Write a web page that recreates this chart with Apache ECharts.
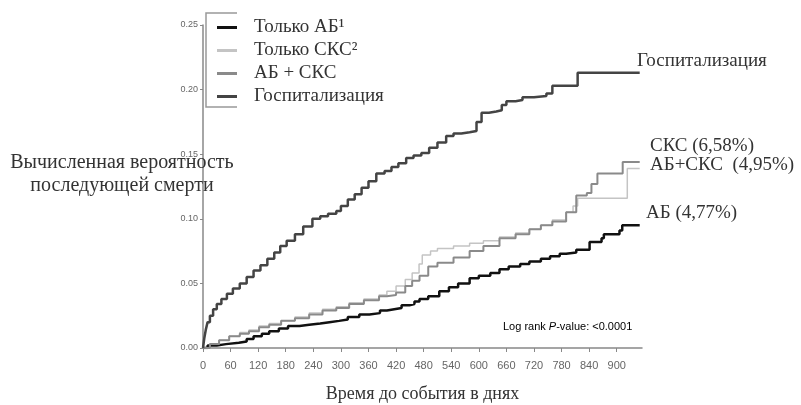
<!DOCTYPE html>
<html>
<head>
<meta charset="utf-8">
<script src="https://cdn.jsdelivr.net/npm/echarts@6/dist/echarts.min.js"></script>
<style>
  html, body { margin: 0; padding: 0; background: #fff; }
  #chart { width: 801px; height: 405px; }
</style>
</head>
<body>
<div id="chart"></div>
<script>
// названия серий
var seriesNames = ['Только АБ¹', 'Только СКС²', 'АБ + СКС', 'Госпитализация']
// подписи справа
var endLabels = ['Госпитализация', 'СКС (6,58%)', 'АБ+СКС  (4,95%)', 'АБ (4,77%)']
var xTicks = [0, 60, 120, 180, 240, 300, 360, 420, 480, 540, 600, 660, 720, 780, 840, 900]

// [день, вероятность]
var abData = [[0,0],[10,0.002],[30,0.003],[50,0.004],[78,0.005],[95,0.007],[110,0.009],[128,0.011],[144,0.013],[165,0.015],[185,0.017],[210,0.018],[231,0.019],[255,0.020],[275,0.021],[296,0.022],[315,0.024],[340,0.026],[362,0.027],[385,0.029],[400,0.030],[416,0.031],[432,0.033],[449,0.034],[460,0.036],[471,0.038],[490,0.040],[514,0.044],[535,0.047],[555,0.050],[580,0.054],[600,0.056],[625,0.058],[645,0.061],[665,0.063],[690,0.065],[710,0.067],[735,0.069],[755,0.071],[776,0.073],[790,0.074],[812,0.076],[841,0.082],[867,0.085],[872,0.088],[906,0.091],[912,0.095],[950,0.095]]

var sksData = [[0,0],[15,0.003],[35,0.006],[57,0.009],[80,0.012],[100,0.014],[122,0.017],[144,0.019],[170,0.021],[200,0.024],[231,0.027],[260,0.030],[290,0.032],[318,0.035],[350,0.038],[383,0.041],[400,0.044],[420,0.048],[440,0.053],[455,0.058],[470,0.065],[477,0.072],[495,0.075],[510,0.077],[545,0.079],[580,0.081],[610,0.083],[645,0.086],[680,0.089],[710,0.092],[735,0.095],[760,0.099],[790,0.105],[805,0.110],[815,0.116],[923,0.139],[950,0.139]]

var abSksData = [[0,0],[15,0.003],[35,0.006],[57,0.009],[80,0.011],[100,0.013],[122,0.016],[144,0.018],[170,0.021],[200,0.023],[231,0.026],[260,0.029],[290,0.031],[318,0.034],[350,0.037],[383,0.040],[400,0.041],[420,0.043],[440,0.048],[455,0.052],[471,0.056],[490,0.063],[510,0.066],[545,0.070],[580,0.075],[610,0.079],[645,0.085],[680,0.088],[710,0.092],[735,0.095],[760,0.098],[790,0.105],[812,0.118],[835,0.120],[845,0.127],[858,0.135],[913,0.144],[950,0.144]]

var hospData = [[0,0],[3,0.008],[6,0.014],[10,0.020],[15,0.025],[22,0.030],[30,0.034],[40,0.038],[52,0.042],[65,0.046],[80,0.050],[95,0.055],[110,0.060],[125,0.064],[140,0.069],[155,0.074],[168,0.079],[182,0.083],[200,0.088],[218,0.094],[238,0.100],[255,0.102],[272,0.104],[290,0.106],[300,0.110],[315,0.115],[330,0.119],[345,0.124],[360,0.129],[377,0.135],[395,0.137],[410,0.140],[425,0.143],[442,0.147],[458,0.149],[475,0.151],[492,0.155],[510,0.159],[529,0.164],[545,0.166],[562,0.167],[580,0.168],[595,0.175],[606,0.182],[622,0.183],[638,0.184],[650,0.188],[660,0.191],[680,0.192],[695,0.194],[720,0.195],[747,0.197],[760,0.203],[785,0.203],[804,0.203],[815,0.213],[950,0.213]]

var serif = '"Liberation Serif", "DejaVu Serif", serif'
var narrow = '"Liberation Sans Narrow", "Liberation Sans", sans-serif'

function kmLine(name, data, color, width) {
  return {
    name: name,
    type: 'line',
    step: 'end',
    data: data,
    showSymbol: false,
    color: color,
    lineStyle: { color: color, width: width },
    z: 3
  }
}

var chart = echarts.init(document.getElementById('chart'))
chart.setOption({
  animation: false,
  backgroundColor: '#fff',
  grid: { left: 203, right: 159, top: 25, bottom: 57, outerBoundsMode: 'none', containLabel: false },
  legend: {
    orient: 'vertical',
    left: 212,
    top: 13,
    itemWidth: 20,
    itemHeight: 3,
    itemGap: 4,
    icon: 'rect',
    textStyle: { fontFamily: serif, fontSize: 19, color: '#333', padding: [0, 0, 0, 12] },
    data: seriesNames
  },
  xAxis: {
    type: 'value',
    min: 0,
    max: 955,
    interval: 60,
    axisLine: { lineStyle: { color: '#888', width: 1.5 } },
    axisTick: { show: true, length: 4, lineStyle: { color: '#888' } },
    axisLabel: {
      color: '#666', fontFamily: narrow, fontSize: 11, margin: 12,
      showMaxLabel: false
    },
    splitLine: { show: false },
    name: 'Время до события в днях',
    nameLocation: 'middle',
    nameGap: 37,
    nameTextStyle: { fontFamily: serif, fontSize: 18, color: '#333' }
  },
  yAxis: {
    type: 'value',
    min: 0,
    max: 0.25,
    interval: 0.05,
    axisLine: { show: true, lineStyle: { color: '#888', width: 1.5 } },
    axisTick: { show: true, length: 3, lineStyle: { color: '#888' } },
    axisLabel: {
      color: '#666', fontFamily: narrow, fontSize: 9, margin: 5,
      formatter: function (v) { return v.toFixed(2) }
    },
    splitLine: { show: false }
  },
  graphic: [
    // скобка легенды
    {
      type: 'polyline',
      shape: { points: [[237, 13], [206, 13], [206, 107], [237, 107]] },
      style: { stroke: '#999', lineWidth: 1.5, fill: null }
    },
    {
      type: 'text', x: 122, y: 151, z: 10,
      style: {
        text: 'Вычисленная вероятность\nпоследующей смерти',
        align: 'center', lineHeight: 23,
        font: '20px ' + serif, fill: '#333'
      }
    },
    { type: 'text', left: 637, top: 52, style: { text: endLabels[0], font: '19px ' + serif, fill: '#333' } },
    { type: 'text', left: 650, top: 137, style: { text: endLabels[1], font: '19px ' + serif, fill: '#333' } },
    { type: 'text', left: 650, top: 156, style: { text: endLabels[2], font: '19px ' + serif, fill: '#333' } },
    { type: 'text', left: 646, top: 204, style: { text: endLabels[3], font: '19px ' + serif, fill: '#333' } },
    {
      type: 'text', left: 503, top: 321,
      style: {
        text: '{a|Log rank }{b|P}{a|-value: <0.0001}',
        rich: {
          a: { fontFamily: narrow, fontSize: 11, color: '#444' },
          b: { fontFamily: narrow, fontSize: 11, fontStyle: 'italic', color: '#444' }
        }
      }
    }
  ],
  series: [
    kmLine(seriesNames[0], abData, '#111', 2.5),
    kmLine(seriesNames[1], sksData, '#c4c4c4', 1.5),
    kmLine(seriesNames[2], abSksData, '#8a8a8a', 2),
    kmLine(seriesNames[3], hospData, '#444', 2.5)
  ]
})
</script>
</body>
</html>
